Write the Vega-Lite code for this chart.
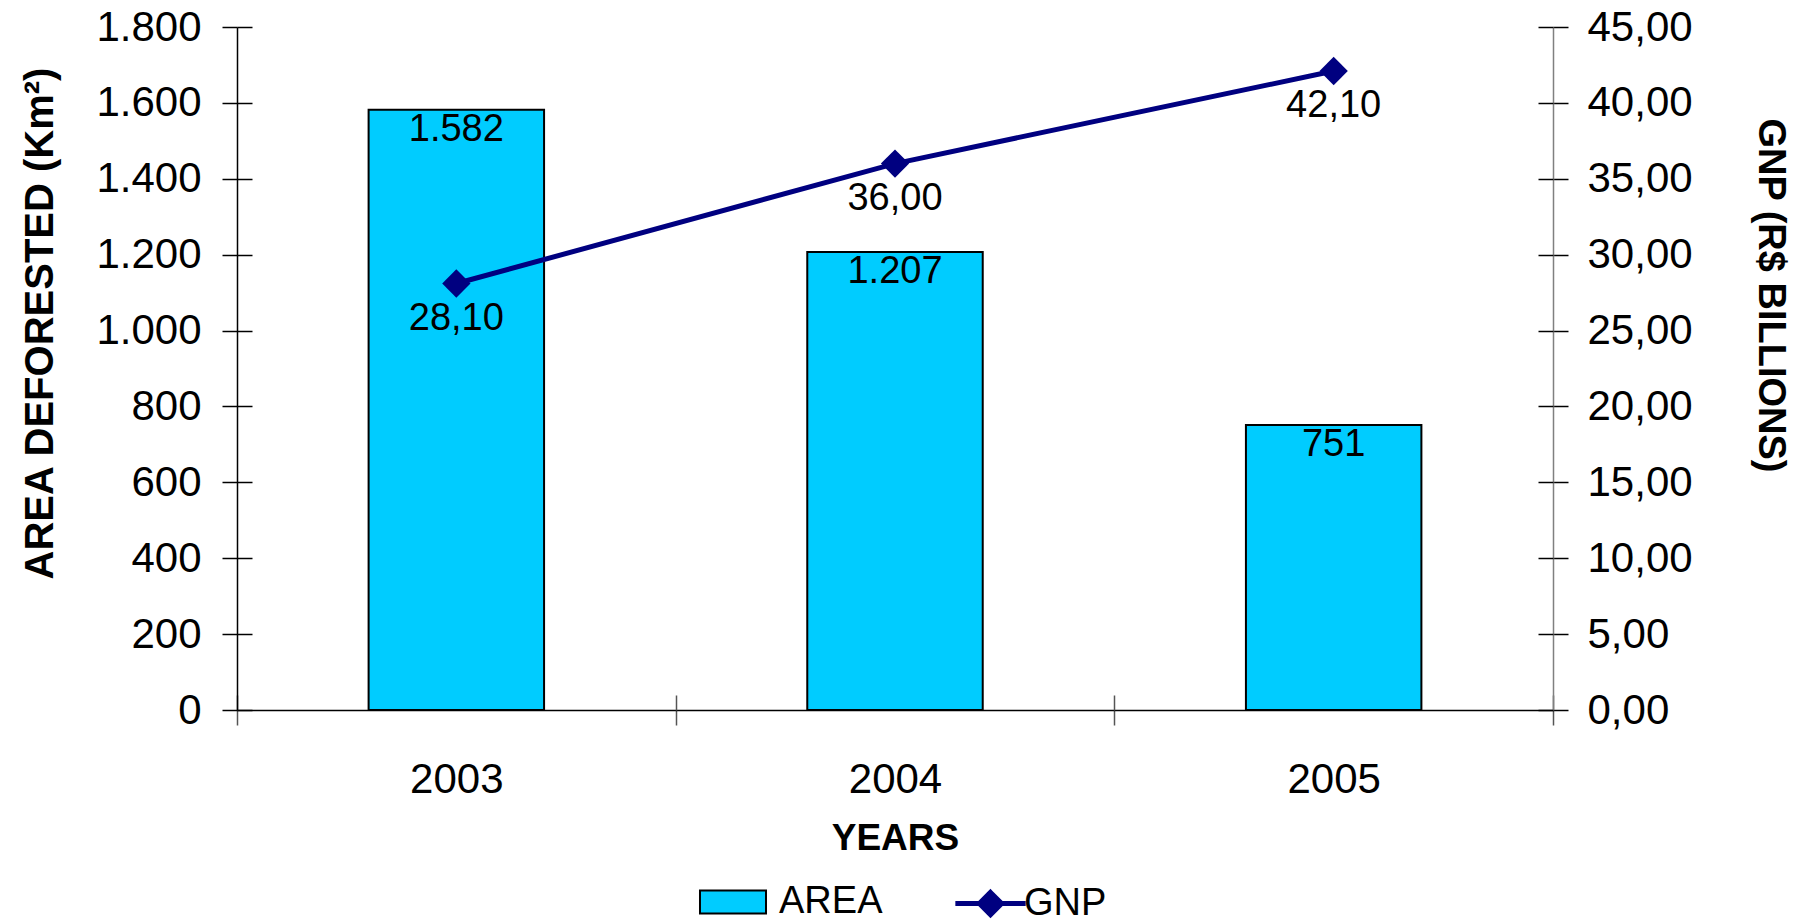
{
  "$schema": "https://vega.github.io/schema/vega-lite/v6.json",
  "width": 1316,
  "height": 683,
  "autosize": {"type": "none"},
  "padding": {"left": 237, "top": 27, "right": 240, "bottom": 212},
  "background": "white",
  "config": {
    "font": "Liberation Sans",
    "view": {"stroke": null},
    "locale": {"number": {"decimal": ",", "thousands": ".", "grouping": [3], "currency": ["R$", ""]}},
    "axis": {"labelFont": "Liberation Sans", "titleFont": "Liberation Sans", "labelColor": "black", "titleColor": "black", "grid": false},
    "text": {"font": "Liberation Sans", "color": "black"}
  },
  "datasets": {
    "area": [
      {"year": "2003", "value": 1582, "series": "AREA"},
      {"year": "2004", "value": 1207, "series": "AREA"},
      {"year": "2005", "value": 751, "series": "AREA"}
    ],
    "gnp": [
      {"year": "2003", "value": 28.1, "series": "GNP"},
      {"year": "2004", "value": 36.0, "series": "GNP"},
      {"year": "2005", "value": 42.1, "series": "GNP"}
    ]
  },
  "resolve": {"scale": {"y": "independent"}, "axis": {"x": "independent", "y": "independent"}},
  "layer": [
    {
      "data": {"name": "area"},
      "mark": {"type": "bar", "width": {"band": 0.4}, "stroke": "black", "strokeWidth": 2},
      "encoding": {
        "x": {
          "field": "year", "type": "ordinal",
          "scale": {"domain": ["2003", "2004", "2005"], "paddingInner": 0, "paddingOuter": 0},
          "axis": {"orient": "bottom", "title": "YEARS", "titleFontSize": 37, "titleFontWeight": "bold", "titlePadding": 20,
                   "labelFontSize": 42, "labelPadding": 34, "labelAngle": 0, "tickBand": "extent", "tickSize": 15,
                   "tickColor": "#555555", "tickWidth": 1.5, "domainColor": "black", "domainWidth": 1.5}
        },
        "y": {
          "field": "value", "type": "quantitative",
          "scale": {"domain": [0, 1800], "nice": false},
          "axis": {"orient": "left", "title": "AREA DEFORESTED (Km²)", "titleFontSize": 40, "titleFontWeight": "bold",
                   "titlePadding": 35, "titleY": 296, "format": ",d", "labelFontSize": 42, "labelPadding": 21,
                   "tickSize": 15, "tickColor": "black", "tickWidth": 1.5, "domainColor": "black", "domainWidth": 1.5,
                   "values": [0, 200, 400, 600, 800, 1000, 1200, 1400, 1600, 1800]}
        },
        "fill": {
          "field": "series", "type": "nominal",
          "scale": {"domain": ["AREA"], "range": ["#00CCFF"]},
          "legend": {
            "title": null, "orient": "none", "legendX": 458, "legendY": 837, "padding": 0,
            "symbolType": "M-0.892,-0.311H0.892V0.311H-0.892Z",
            "symbolSize": 5476, "symbolStrokeColor": "black", "symbolStrokeWidth": 2,
            "labelFontSize": 38, "labelFont": "Liberation Sans", "labelColor": "black",
            "labelOffset": 8, "labelLimit": 300
          }
        }
      }
    },
    {
      "data": {"name": "area"},
      "mark": {"type": "text", "baseline": "top", "align": "center", "dy": 1, "fontSize": 38},
      "encoding": {
        "x": {
          "field": "year", "type": "ordinal",
          "axis": {"orient": "bottom", "offset": -15, "tickSize": 15, "domain": false, "labels": false, "title": null,
                   "tickBand": "extent", "tickColor": "#555555", "tickWidth": 1.5}
        },
        "y": {
          "field": "value", "type": "quantitative",
          "scale": {"domain": [0, 1800], "nice": false},
          "axis": {"orient": "left", "offset": -15, "tickSize": 15, "domain": false, "labels": false, "title": null,
                   "tickColor": "black", "tickWidth": 1.5,
                   "values": [0, 200, 400, 600, 800, 1000, 1200, 1400, 1600, 1800]}
        },
        "text": {"field": "value", "type": "quantitative", "format": ",d"}
      }
    },
    {
      "data": {"name": "gnp"},
      "mark": {"type": "line", "strokeWidth": 5},
      "encoding": {
        "x": {"field": "year", "type": "ordinal", "axis": null},
        "y": {
          "field": "value", "type": "quantitative",
          "scale": {"domain": [0, 45], "nice": false},
          "axis": {"orient": "right", "title": "GNP (R$ BILLIONS)", "titleFontSize": 38, "titleFontWeight": "bold",
                   "titlePadding": 58, "titleY": 268, "format": ".2f", "labelFontSize": 42, "labelPadding": 19,
                   "tickSize": 15, "tickColor": "black", "tickWidth": 1.5, "domainColor": "#808080", "domainWidth": 1.5,
                   "values": [0, 5, 10, 15, 20, 25, 30, 35, 40, 45]}
        },
        "stroke": {
          "field": "series", "type": "nominal",
          "scale": {"domain": ["GNP"], "range": ["#000080"]},
          "legend": {
            "title": null, "orient": "none", "legendX": 714, "legendY": 837, "padding": 0,
            "symbolType": "M-0.95,0H0.95M0,-0.3L0.3,0L0,0.3L-0.3,0Z",
            "symbolSize": 5476, "symbolFillColor": "#000080", "symbolStrokeWidth": 5,
            "labelFontSize": 38, "labelFont": "Liberation Sans", "labelColor": "black",
            "labelOffset": -6, "labelLimit": 300
          }
        }
      }
    },
    {
      "data": {"name": "gnp"},
      "mark": {"type": "point", "shape": "diamond", "filled": true, "size": 800, "opacity": 1, "color": "#000080"},
      "encoding": {
        "x": {"field": "year", "type": "ordinal", "axis": null},
        "y": {
          "field": "value", "type": "quantitative",
          "scale": {"domain": [0, 45], "nice": false},
          "axis": {"orient": "right", "offset": -15, "tickSize": 15, "domain": false, "labels": false, "title": null,
                   "tickColor": "black", "tickWidth": 1.5,
                   "values": [0, 5, 10, 15, 20, 25, 30, 35, 40, 45]}
        }
      }
    },
    {
      "data": {"name": "gnp"},
      "mark": {"type": "text", "baseline": "top", "align": "center", "dy": 16, "fontSize": 38},
      "encoding": {
        "x": {"field": "year", "type": "ordinal", "axis": null},
        "y": {
          "field": "value", "type": "quantitative",
          "scale": {"domain": [0, 45], "nice": false},
          "axis": null
        },
        "text": {"field": "value", "type": "quantitative", "format": ".2f"}
      }
    }
  ]
}
